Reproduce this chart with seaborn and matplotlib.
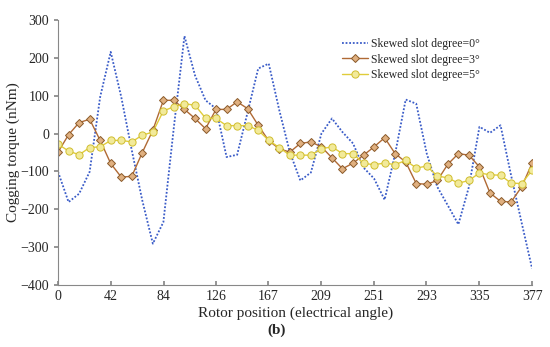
import numpy as np
import pandas as pd
import matplotlib.pyplot as plt
import seaborn as sns

# rotor position: 46 samples from 0 to 377 electrical degrees
position = np.linspace(0, 377, 46)
xticks = [0, 42, 84, 126, 167, 209, 251, 293, 335, 377]

skew_0 = [-101, -181, -159, -101, 97, 216, 97, -44, -177, -291,
          -234, 18, 258, 154, 88, 66, -62, -56, 57, 172,
          185, 62, -49, -124, -103, 0, 40, 4, -26, -90,
          -119, -175, -53, 90, 79, -53, -141, -190, -240, -141,
          18, 2, 22, -110, -235, -357]
skew_3 = [-49, -3, 29, 38, -18, -79, -115, -113, -50, 9,
          88, 88, 64, 40, 13, 64, 64, 84, 66, 22,
          -19, -40, -49, -26, -22, -35, -64, -93, -78, -57,
          -35, -11, -53, -75, -132, -134, -124, -81, -53, -57,
          -88, -157, -179, -181, -141, -78]
skew_5 = [-28, -46, -56, -37, -35, -18, -18, -22, -4, 4,
          60, 71, 79, 75, 41, 40, 21, 21, 21, 9,
          -18, -37, -57, -57, -57, -40, -35, -53, -53, -79,
          -82, -78, -82, -71, -91, -86, -112, -117, -131, -124,
          -104, -109, -110, -131, -132, -97]

labels = ["Skewed slot degree=0°", "Skewed slot degree=3°", "Skewed slot degree=5°"]

sns.set_theme(style="white")
plt.rcParams['font.family'] = ['Liberation Serif', 'DejaVu Serif']

fig = plt.figure(figsize=(5.5, 3.47), dpi=100)
ax = fig.add_axes([0.1055, 0.179, 0.862, 0.763])

sns.lineplot(x=position, y=skew_0, ax=ax, color="#3a5cc8", linestyle=(0, (1, 1)),
             linewidth=1.3, label=labels[0])
sns.lineplot(x=position, y=skew_3, ax=ax, color="#b06a35", linewidth=1.0,
             marker="D", markersize=4.2, markerfacecolor="#e0b080",
             markeredgecolor="#8a5a2a", markeredgewidth=0.7, label=labels[1])
sns.lineplot(x=position, y=skew_5, ax=ax, color="#e0cc3a", linewidth=1.0,
             marker="o", markersize=5.2, markerfacecolor="#f2ea9a",
             markeredgecolor="#d0be30", markeredgewidth=0.7, label=labels[2])

ax.set_xlim(0, 377)
ax.set_ylim(-400, 300)
ax.set_xticks(xticks)
ax.set_yticks(range(-400, 301, 100))
ax.tick_params(axis='x', direction='in', length=3, color='#888888', labelsize=10, pad=4, bottom=True)
ax.tick_params(axis='y', direction='out', length=3, color='#888888', labelsize=10, left=True)
for s in ['top', 'right']:
    ax.spines[s].set_visible(False)
for s in ['left', 'bottom']:
    ax.spines[s].set_color('#888888')
    ax.spines[s].set_linewidth(0.8)

ax.set_xlabel("Rotor position (electrical angle)", fontsize=11, labelpad=2)
ax.set_ylabel("Cogging torque (nNm)", fontsize=11)
ax.yaxis.set_label_coords(-0.08, 0.5)

ax.legend(loc='upper left', bbox_to_anchor=(0.59, 0.95), frameon=False,
          fontsize=8.5, handlelength=2.2, handletextpad=0.2, labelspacing=0.3,
          borderaxespad=0)

fig.text(0.502, 0.037, "(b)", fontsize=11, fontweight='bold', ha='center')

fig.savefig("out.png", dpi=100)
